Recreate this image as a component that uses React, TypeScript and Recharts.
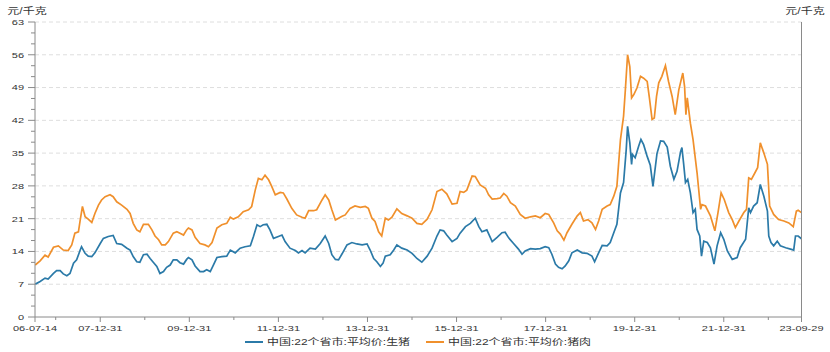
import React from 'react';
import { LineChart, Line, XAxis, YAxis, CartesianGrid, Legend } from 'recharts';

// ---- data (time in decimal years) ----
const hogTime = [
  2006.54, 2006.65, 2006.76, 2006.83, 2006.95, 2007.02, 2007.10, 2007.17, 2007.25, 2007.32,
  2007.40, 2007.47, 2007.55, 2007.58, 2007.66, 2007.73, 2007.81, 2007.88, 2008.00, 2008.07,
  2008.18, 2008.29, 2008.37, 2008.48, 2008.60, 2008.67, 2008.74, 2008.82, 2008.89, 2008.97,
  2009.05, 2009.12, 2009.19, 2009.27, 2009.34, 2009.42, 2009.49, 2009.57, 2009.64, 2009.72,
  2009.79, 2009.87, 2009.94, 2009.98, 2010.06, 2010.13, 2010.24, 2010.32, 2010.39, 2010.47,
  2010.54, 2010.62, 2010.73, 2010.84, 2010.92, 2011.03, 2011.14, 2011.25, 2011.37, 2011.44,
  2011.52, 2011.59, 2011.66, 2011.74, 2011.81, 2011.89, 2012.00, 2012.08, 2012.15, 2012.26,
  2012.38, 2012.45, 2012.53, 2012.60, 2012.71, 2012.83, 2012.94, 2013.05, 2013.13, 2013.20,
  2013.28, 2013.35, 2013.43, 2013.54, 2013.65, 2013.76, 2013.88, 2013.99, 2014.06, 2014.14,
  2014.21, 2014.29, 2014.35, 2014.40, 2014.51, 2014.59, 2014.66, 2014.77, 2014.89, 2015.00,
  2015.11, 2015.22, 2015.34, 2015.45, 2015.56, 2015.63, 2015.71, 2015.78, 2015.90, 2016.01,
  2016.08, 2016.20, 2016.31, 2016.42, 2016.50, 2016.57, 2016.68, 2016.80, 2016.91, 2017.02,
  2017.09, 2017.17, 2017.28, 2017.39, 2017.47, 2017.54, 2017.66, 2017.77, 2017.88, 2017.99,
  2018.07, 2018.14, 2018.22, 2018.29, 2018.37, 2018.44, 2018.52, 2018.59, 2018.71, 2018.82,
  2018.93, 2019.04, 2019.10, 2019.19, 2019.27, 2019.38, 2019.45, 2019.53, 2019.60, 2019.68,
  2019.75, 2019.81, 2019.84, 2019.89, 2019.93, 2019.95, 2020.01, 2020.09, 2020.14, 2020.20,
  2020.28, 2020.35, 2020.41, 2020.50, 2020.58, 2020.65, 2020.73, 2020.80, 2020.88, 2020.95,
  2021.03, 2021.06, 2021.10, 2021.14, 2021.19, 2021.25, 2021.31, 2021.36, 2021.40, 2021.46,
  2021.50, 2021.55, 2021.63, 2021.70, 2021.78, 2021.85, 2021.93, 2022.00, 2022.08, 2022.19,
  2022.30, 2022.37, 2022.49, 2022.56, 2022.60, 2022.67, 2022.75, 2022.82, 2022.90, 2022.98,
  2023.01, 2023.06, 2023.12, 2023.20, 2023.27, 2023.39, 2023.50, 2023.57, 2023.61, 2023.67,
  2023.745,
];
const hogPrice = [
  7.0, 7.6, 8.3, 8.1, 9.3, 9.9, 9.9, 9.2, 8.8, 9.3,
  11.5, 12.2, 14.3, 15.0, 13.6, 13.0, 12.9, 13.7, 15.7, 16.8,
  17.2, 17.4, 15.7, 15.5, 14.7, 14.3, 12.9, 11.8, 11.7, 13.3,
  13.4, 12.5, 11.7, 10.8, 9.3, 9.7, 10.6, 11.1, 12.2, 12.2,
  11.6, 11.3, 12.3, 12.7, 12.2, 10.9, 9.7, 9.7, 10.1, 9.7,
  11.1, 12.7, 12.9, 13.0, 14.3, 13.7, 14.7, 15.0, 15.2, 17.2,
  19.7, 19.3, 19.7, 19.8, 18.6, 16.8, 17.2, 17.5, 16.1, 14.7,
  14.2, 13.7, 14.2, 13.7, 14.7, 14.5, 15.7, 17.3, 15.7, 13.3,
  12.3, 12.2, 13.5, 15.4, 15.9, 15.6, 15.4, 15.6, 14.3, 12.5,
  11.8, 10.8, 11.5, 13.0, 13.3, 14.3, 15.4, 14.7, 14.3, 13.6,
  12.5, 11.7, 13.0, 14.7, 17.3, 18.6, 18.4, 17.5, 16.1, 16.8,
  17.9, 19.3, 20.0, 21.1, 19.3, 18.2, 18.6, 16.1, 17.0, 18.0,
  18.1, 16.9, 15.7, 14.5, 13.4, 14.1, 14.6, 14.5, 14.6, 15.0,
  14.8, 13.4, 11.3, 10.6, 10.3, 10.9, 12.0, 13.7, 14.3, 13.7,
  13.6, 13.0, 11.8, 13.7, 15.3, 15.2, 15.9, 18.0, 19.8, 26.5,
  28.7, 35.8, 40.7, 37.2, 32.6, 34.7, 34.0, 36.5, 37.9, 36.8,
  34.3, 32.4, 27.9, 34.9, 37.6, 37.5, 36.3, 32.2, 29.4, 31.1,
  35.3, 36.2, 32.6, 28.7, 29.4, 26.5, 22.3, 23.0, 18.7, 17.3,
  13.0, 16.2, 15.9, 14.8, 11.3, 15.2, 18.0, 16.6, 14.1, 12.3,
  12.7, 14.8, 16.6, 23.3, 22.3, 23.7, 24.4, 28.3, 25.8, 22.6,
  17.3, 15.9, 15.2, 16.2, 15.2, 14.8, 14.5, 14.3, 17.3, 17.3,
  16.7,
];
const porkTime = [
  2006.54, 2006.65, 2006.76, 2006.83, 2006.95, 2007.06, 2007.17, 2007.28, 2007.36, 2007.43,
  2007.51, 2007.55, 2007.60, 2007.66, 2007.73, 2007.81, 2007.88, 2007.96, 2008.03, 2008.11,
  2008.22, 2008.29, 2008.37, 2008.48, 2008.60, 2008.67, 2008.74, 2008.82, 2008.89, 2008.97,
  2009.08, 2009.16, 2009.23, 2009.31, 2009.38, 2009.46, 2009.53, 2009.64, 2009.72, 2009.79,
  2009.87, 2009.94, 2009.98, 2010.06, 2010.13, 2010.24, 2010.35, 2010.43, 2010.51, 2010.62,
  2010.73, 2010.84, 2010.92, 2010.99, 2011.10, 2011.21, 2011.33, 2011.40, 2011.48, 2011.55,
  2011.63, 2011.70, 2011.78, 2011.85, 2011.93, 2012.04, 2012.11, 2012.19, 2012.30, 2012.41,
  2012.53, 2012.60, 2012.68, 2012.79, 2012.86, 2012.98, 2013.05, 2013.13, 2013.20, 2013.28,
  2013.35, 2013.43, 2013.50, 2013.61, 2013.72, 2013.84, 2013.95, 2014.02, 2014.10, 2014.17,
  2014.25, 2014.32, 2014.40, 2014.47, 2014.55, 2014.66, 2014.77, 2014.89, 2015.00, 2015.11,
  2015.22, 2015.34, 2015.45, 2015.56, 2015.67, 2015.78, 2015.90, 2016.01, 2016.08, 2016.16,
  2016.23, 2016.35, 2016.42, 2016.53, 2016.65, 2016.72, 2016.80, 2016.91, 2016.98, 2017.06,
  2017.13, 2017.21, 2017.32, 2017.43, 2017.54, 2017.66, 2017.77, 2017.88, 2017.99, 2018.07,
  2018.18, 2018.26, 2018.33, 2018.41, 2018.48, 2018.59, 2018.71, 2018.78, 2018.85, 2018.95,
  2019.04, 2019.12, 2019.19, 2019.27, 2019.38, 2019.45, 2019.53, 2019.60, 2019.68, 2019.75,
  2019.79, 2019.84, 2019.89, 2019.93, 2019.98, 2020.05, 2020.13, 2020.20, 2020.28, 2020.33,
  2020.39, 2020.44, 2020.49, 2020.54, 2020.61, 2020.69, 2020.76, 2020.84, 2020.91, 2020.99,
  2021.08, 2021.12, 2021.15, 2021.18, 2021.25, 2021.31, 2021.40, 2021.48, 2021.51, 2021.59,
  2021.70, 2021.80, 2021.87, 2021.94, 2022.01, 2022.11, 2022.19, 2022.26, 2022.34, 2022.45,
  2022.51, 2022.56, 2022.62, 2022.70, 2022.76, 2022.82, 2022.90, 2022.98, 2023.03, 2023.12,
  2023.23, 2023.35, 2023.46, 2023.56, 2023.63, 2023.67, 2023.745,
];
const porkPrice = [
  11.1, 12.0, 13.2, 12.8, 14.9, 15.2, 14.3, 14.2, 15.4, 17.9,
  18.2, 20.7, 23.6, 21.4, 20.9, 20.2, 22.1, 23.9, 25.0, 25.7,
  26.1, 25.7, 24.6, 23.9, 23.0, 22.1, 20.0, 18.6, 18.2, 19.8,
  19.8, 18.6, 17.3, 16.5, 15.4, 15.4, 16.1, 17.9, 18.2, 17.9,
  17.5, 18.6, 19.0, 18.6, 17.0, 15.7, 15.4, 15.0, 15.9, 19.0,
  19.7, 20.0, 21.3, 20.9, 21.4, 22.5, 22.9, 23.6, 27.1, 29.6,
  29.3, 30.3, 29.3, 27.9, 26.1, 26.6, 26.5, 25.2, 23.2, 21.8,
  21.3, 21.1, 22.7, 22.7, 22.9, 25.0, 26.1, 25.0, 22.9, 20.7,
  21.1, 21.5, 21.8, 23.2, 23.7, 23.4, 23.6, 23.2, 21.1, 20.4,
  18.2, 17.3, 21.1, 20.7, 21.3, 23.1, 22.1, 21.6, 21.1, 20.0,
  19.8, 20.9, 22.9, 26.8, 27.3, 26.3, 24.1, 24.3, 26.8, 26.6,
  27.1, 30.1, 30.0, 28.2, 27.5, 26.1, 25.2, 25.3, 25.4, 26.4,
  25.8, 24.4, 23.7, 21.9, 21.1, 21.4, 21.6, 21.2, 22.1, 21.9,
  20.1, 18.4, 17.7, 16.4, 18.0, 19.8, 21.6, 22.3, 20.5, 20.8,
  20.1, 18.7, 20.5, 23.0, 23.7, 24.0, 25.8, 27.9, 37.9, 42.9,
  48.5, 56.0, 53.5, 46.8, 47.5, 48.9, 51.4, 51.0, 50.3, 46.8,
  42.2, 42.5, 47.1, 50.0, 51.4, 53.7, 50.3, 47.1, 43.2, 48.5,
  52.1, 49.2, 43.2, 46.8, 41.4, 37.9, 30.8, 23.0, 24.0, 23.7,
  21.6, 18.4, 22.3, 26.5, 25.1, 22.3, 20.8, 19.1, 20.5, 22.3,
  23.0, 29.7, 29.4, 30.8, 31.9, 37.2, 35.0, 32.6, 23.7, 21.9,
  20.8, 20.5, 20.1, 19.3, 22.6, 22.8, 22.3,
];

const seriesNames = ['中国:22个省市:平均价:生猪', '中国:22个省市:平均价:猪肉'];
const unitLabel = '元/千克';

const xTickTimes = [2006.535, 2008.0, 2010.0, 2012.0, 2014.0, 2016.0, 2018.0, 2020.0, 2022.0, 2023.745];
const xTickLabels = ['06-07-14', '07-12-31', '09-12-31', '11-12-31', '13-12-31', '15-12-31', '17-12-31', '19-12-31', '21-12-31', '23-09-29'];
const xMinorTimes = [2007, 2009, 2011, 2013, 2015, 2017, 2019, 2021, 2023];
const yTickValues = [0, 7, 14, 21, 28, 35, 42, 49, 56, 63];

// ---- styling ----
const HOG = '#2b7aa8';
const PORK = '#f0902c';
const AXIS = '#8a8a8a';
const TEXT = '#333333';
const GRID = '#dedede';
const FONT = '"Liberation Sans", Arial, "Noto Sans CJK SC", sans-serif';
const VS = 0.72;

const hogData = hogTime.map((t, i) => ({ t, v: hogPrice[i] }));
const porkData = porkTime.map((t, i) => ({ t, v: porkPrice[i] }));

const xAllTicks = [...xTickTimes, ...xMinorTimes].sort((a, b) => a - b);
const yAllTicks: number[] = [];
yTickValues.forEach((v, i) => {
  yAllTicks.push(v);
  if (i < yTickValues.length - 1) {
    yAllTicks.push(v + 7 / 3, v + 14 / 3);
  }
});
const isMajorY = (v: number) => yTickValues.some((m) => Math.abs(m - v) < 1e-6);

function SqText({ x, y, anchor, size, children }: any) {
  return (
    <text
      transform={`translate(${x},${y}) scale(1,${VS})`}
      textAnchor={anchor}
      fontSize={size}
      fontFamily={FONT}
      fill={TEXT}
      dominantBaseline="central"
    >
      {children}
    </text>
  );
}

function XTick(props: any) {
  const { x, y, payload } = props;
  const idx = xTickTimes.findIndex((t) => Math.abs(t - payload.value) < 1e-6);
  const major = idx >= 0;
  return (
    <g>
      <line x1={x} x2={x} y1={y} y2={y + (major ? 5 : 3)} stroke={AXIS} strokeWidth={1} />
      {major && (
        <SqText x={x} y={y + 11} anchor="middle" size={11}>
          {xTickLabels[idx]}
        </SqText>
      )}
    </g>
  );
}

function YTickLeft(props: any) {
  const { x, y, payload } = props;
  const major = isMajorY(payload.value);
  return (
    <g>
      <line x1={x - (major ? 7 : 4)} x2={x} y1={y} y2={y} stroke={AXIS} strokeWidth={1} />
      {major && (
        <SqText x={x - 11} y={y} anchor="end" size={11}>
          {Math.round(payload.value)}
        </SqText>
      )}
    </g>
  );
}

function YTickRight(props: any) {
  const { x, y, payload } = props;
  const major = isMajorY(payload.value);
  return (
    <g>
      <line x1={x} x2={x + (major ? 5 : 4)} y1={y} y2={y} stroke={AXIS} strokeWidth={1} />
      {major && (
        <SqText x={x + 6} y={y} anchor="start" size={11}>
          {Math.round(payload.value)}
        </SqText>
      )}
    </g>
  );
}

const UnitLeft = () => (
  <SqText x={27} y={11} anchor="middle" size={12}>
    {unitLabel}
  </SqText>
);
const UnitRight = () => (
  <SqText x={805} y={11} anchor="middle" size={12}>
    {unitLabel}
  </SqText>
);

const renderLegend = () => (
  <svg width={830} height={20} style={{ display: 'block' }}>
    <line x1={245} x2={263} y1={10} y2={10} stroke={HOG} strokeWidth={2} />
    <SqText x={267} y={10} anchor="start" size={12}>
      {seriesNames[0]}
    </SqText>
    <line x1={426} x2={444} y1={10} y2={10} stroke={PORK} strokeWidth={2} />
    <SqText x={448} y={10} anchor="start" size={12}>
      {seriesNames[1]}
    </SqText>
  </svg>
);

export default function App() {
  return (
    <div style={{ position: 'absolute', left: 0, top: 0, width: 830, height: 352, background: '#fff' }}>
      <LineChart width={830} height={352} margin={{ top: 22, right: 27.5, bottom: 14, left: 34 }}>
        <CartesianGrid
          yAxisId="left"
          vertical={false}
          horizontalValues={yTickValues.filter((v) => v > 0)}
          stroke={GRID}
          strokeDasharray="4 3"
        />
        <XAxis
          dataKey="t"
          type="number"
          domain={[2006.535, 2023.745]}
          ticks={xAllTicks}
          interval={0}
          allowDataOverflow
          height={1}
          tickSize={0}
          tickMargin={0}
          tickLine={false}
          axisLine={{ stroke: AXIS }}
          tick={<XTick />}
        />
        <YAxis
          yAxisId="left"
          orientation="left"
          domain={[0, 63]}
          ticks={yAllTicks}
          interval={0}
          width={1}
          tickSize={0}
          tickMargin={0}
          tickLine={false}
          axisLine={{ stroke: AXIS }}
          tick={<YTickLeft />}
          label={UnitLeft}
        />
        <YAxis
          yAxisId="right"
          orientation="right"
          domain={[0, 63]}
          ticks={yAllTicks}
          interval={0}
          width={1}
          tickSize={0}
          tickMargin={0}
          tickLine={false}
          axisLine={{ stroke: AXIS }}
          tick={<YTickRight />}
          label={UnitRight}
        />
        <Legend
          verticalAlign="bottom"
          height={20}
          content={renderLegend}
          wrapperStyle={{ left: 0, bottom: 0, top: 332, width: 830, height: 20 }}
        />
        <Line
          yAxisId="left"
          data={hogData}
          dataKey="v"
          name={seriesNames[0]}
          type="linear"
          stroke={HOG}
          strokeWidth={1.7}
          dot={false}
          isAnimationActive={false}
        />
        <Line
          yAxisId="left"
          data={porkData}
          dataKey="v"
          name={seriesNames[1]}
          type="linear"
          stroke={PORK}
          strokeWidth={1.7}
          dot={false}
          isAnimationActive={false}
        />
      </LineChart>
    </div>
  );
}
